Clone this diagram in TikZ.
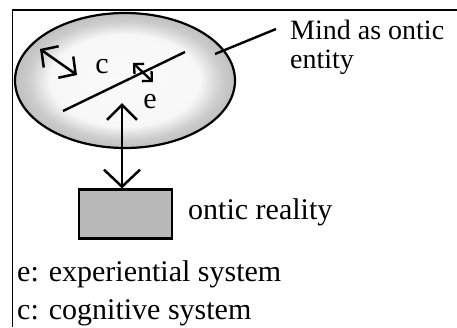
\documentclass[tikz,border=0pt]{standalone}
\usepackage{fontspec}
\setmainfont{Liberation Serif}
\usetikzlibrary{shapes.geometric,arrows.meta}
\pgfdeclareradialshading{mindring}{\pgfpoint{0bp}{0bp}}{color(0bp)=(gray!4); color(17bp)=(gray!6); color(22bp)=(gray!40); color(25bp)=(gray!50); color(50bp)=(gray!50)}
\begin{document}
\begin{tikzpicture}[x=1pt,y=-1pt,
  lbl/.style={font=\fontsize{30}{35}\selectfont, inner sep=0pt, anchor=base west},
  sym/.style={font=\fontsize{30}{35}\selectfont, inner sep=0pt, anchor=base},
  dbl/.style={line width=2.5pt, {Straight Barb[length=12pt,width=26pt]}-{Straight Barb[length=12pt,width=26pt]}},
  smalldbl/.style={line width=2.3pt, {Straight Barb[length=7pt,width=14pt]}-{Straight Barb[length=7pt,width=14pt]}},
  bigdbl/.style={line width=2.5pt, {Straight Barb[length=15pt,width=30pt]}-{Straight Barb[length=17pt,width=36pt]}}
]
\useasboundingbox (0,0) rectangle (457,327);
% frame
\draw[line width=1.6pt] (457,10) -- (12.5,10) -- (12.5,327);
% mind ellipse
\node[ellipse, draw, line width=2.2pt, shading=mindring, minimum width=220pt, minimum height=135pt, inner sep=0pt] (mind) at (125,80.5) {};
% diagonal line
\coordinate (d1) at (63,111);
\coordinate (d2) at (185,52);
\draw[line width=2.4pt] (d1) -- (d2);
% c arrow
\coordinate (c1) at (40,49);
\coordinate (c2) at (77,75);
\draw[dbl] (c1) -- (c2);
% small arrow
\coordinate (s1) at (133,63);
\coordinate (s2) at (153,82);
\draw[smalldbl] (s1) -- (s2);
\node[sym] (clab) at (102,73) {c};
\node[sym] (elab) at (150,108) {e};
% reality box
\node[draw, line width=2.2pt, fill=gray!55, minimum width=93pt, minimum height=49pt, inner sep=0pt] (real) at (125.5,214) {};
\coordinate (etip) at (122,103);
\draw[bigdbl] (etip) -- (real.north -| etip);
% labels
\node[lbl, font=\fontsize{28}{33}\selectfont] (mind1) at (290,39) {Mind as ontic};
\node[lbl, font=\fontsize{28}{33}\selectfont] (mind2) at (290,68) {entity};
\coordinate (m1) at (215,54);
\coordinate (m2) at (276,29);
\draw[line width=2.4pt] (m1) -- (m2);
\node[lbl] (reallab) at (188,219) {ontic reality};
\node[lbl] (elegend) at (17,281) {e: experiential system};
\node[lbl] (clegend) at (17,319) {c: cognitive system};
\end{tikzpicture}
\end{document}
